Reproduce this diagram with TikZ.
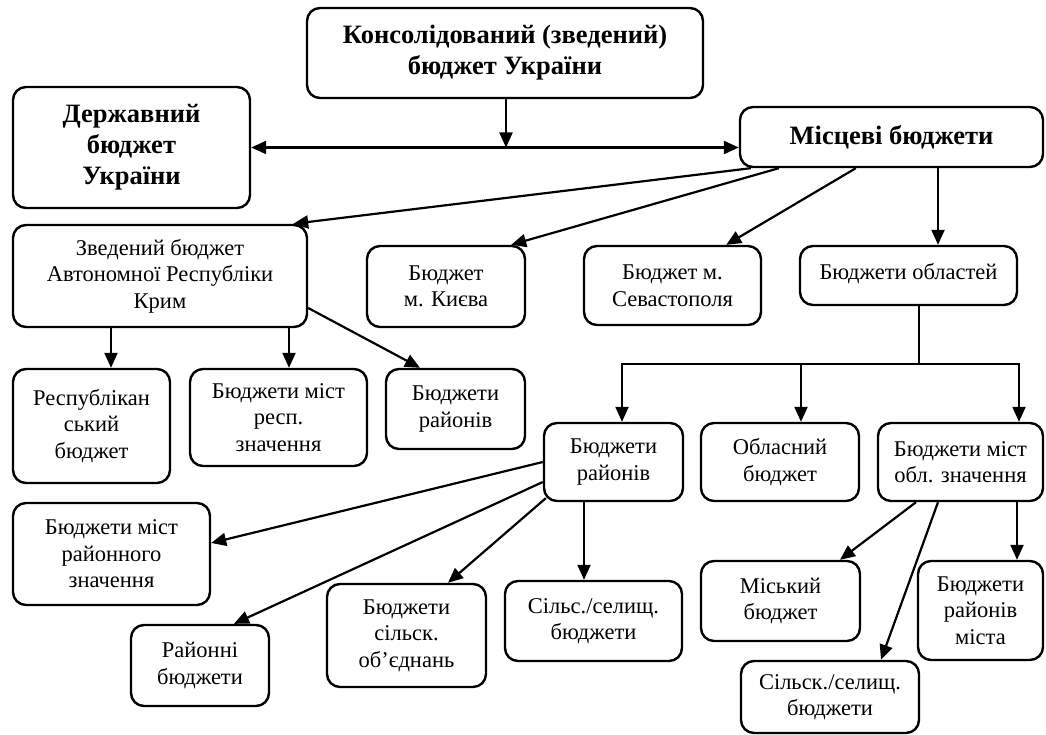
\documentclass[tikz,border=0pt]{standalone}
\usepackage{fontspec}
\setmainfont{Liberation Serif}
\usetikzlibrary{arrows.meta,calc}
\begin{document}
\begin{tikzpicture}[x=1pt,y=1pt,
  box/.style={draw, line width=2.4pt, rounded corners=13pt, align=center, inner sep=0pt, anchor=center,
    font=\fontsize{22.5}{26.5}\selectfont},
  bigbox/.style={box, font=\fontsize{26.5}{31}\selectfont\bfseries},
  conn/.style={line width=2.2pt, -{Triangle[length=15pt,width=13pt]}},
  plain/.style={line width=2.2pt}
]
\useasboundingbox (0,0) rectangle (1046,-735);
% top level
\node[bigbox, minimum width=396pt, minimum height=90pt] (kons) at (505,-53) {Консолідований (зведений)\\бюджет України};
\node[bigbox, minimum width=237pt, minimum height=121pt] (derzh) at (131.5,-147.5) {Державний\\бюджет\\України};
\node[bigbox, minimum width=303pt, minimum height=60pt] (mist) at (891.5,-137) {Місцеві бюджети};
% second level
\node[box, minimum width=294pt, minimum height=102pt] (ark) at (160,-276) {Зведений бюджет\\Автономної Республіки\\Крим};
\node[box, minimum width=158pt, minimum height=81pt] (kyiv) at (446,-286.5) {Бюджет\\м. Києва};
\node[box, minimum width=177pt, minimum height=79pt] (sevas) at (672.5,-285.5) {Бюджет м.\\Севастополя};
\node[box, minimum width=217pt, minimum height=59pt] (oblast) at (908.5,-275.5) {Бюджети областей\rule[-8pt]{0pt}{1pt}};
% ARK children
\node[box, minimum width=157pt, minimum height=114pt] (respub) at (91.5,-426) {Республікан\\ський\\бюджет};
\node[box, minimum width=177pt, minimum height=97pt] (mistresp) at (278.5,-417.5) {Бюджети міст\\респ.\\значення};
\node[box, minimum width=139pt, minimum height=80pt] (rayonA) at (455.5,-409) {Бюджети\\районів};
% oblast children
\node[box, minimum width=139pt, minimum height=78pt] (rayonB) at (613.5,-462) {Бюджети\\районів};
\node[box, minimum width=158pt, minimum height=78pt] (oblasnyi) at (780,-462) {Обласний\\бюджет};
\node[box, minimum width=165pt, minimum height=78pt] (mistobl) at (960.5,-462) {Бюджети міст\\обл. значення};
% rayon children
\node[box, minimum width=197pt, minimum height=102pt] (mistrayon) at (111.5,-554) {Бюджети міст\\районного\\значення};
\node[box, minimum width=138pt, minimum height=81pt] (rayonni) at (200,-665.5) {Районні\\бюджети};
\node[box, minimum width=159pt, minimum height=103pt] (silsob) at (406.5,-635.5) {Бюджети\\сільск.\\об’єднань};
\node[box, minimum width=177pt, minimum height=80pt] (silsA) at (593.5,-621) {Сільс./селищ.\\бюджети};
% city children
\node[box, minimum width=159pt, minimum height=80pt] (miskyi) at (780.5,-601) {Міський\\бюджет};
\node[box, minimum width=178pt, minimum height=72pt] (silsB) at (830,-697) {Сільск./селищ.\\бюджети};
\node[box, minimum width=125pt, minimum height=99pt] (rayonmista) at (980.5,-610.5) {Бюджети\\районів\\міста};
% connectors top
\coordinate (j1) at (506,-147.5);
\draw[conn] (kons.south -| j1) -- (j1);
\draw[line width=2.2pt, {Triangle[length=15pt,width=13pt]}-{Triangle[length=15pt,width=13pt]}] (derzh.east) -- (derzh.east -| mist.west);
\draw[conn] ([xshift=12pt]mist.south west) -- ([xshift=-15pt]ark.north east);
\draw[conn] ([xshift=40pt]mist.south west) -- ([xshift=-15pt]kyiv.north east);
\draw[conn] ([xshift=117pt]mist.south west) -- ([xshift=-36pt]sevas.north east);
\draw[conn] ([xshift=46.5pt]mist.south) -- ([xshift=46.5pt]mist.south |- oblast.north);
% oblast tree
\coordinate (br) at (919,-364);
\draw[plain] (oblast.south -| br) -- (br);
\draw[conn] (br) -| ([xshift=8.5pt]rayonB.north);
\draw[conn] (br) -| ([xshift=58.5pt]mistobl.north);
\draw[conn] ([xshift=21pt]oblasnyi.north |- br) -- ([xshift=21pt]oblasnyi.north);
% ARK children
\draw[conn] ([xshift=19.5pt]respub.north |- ark.south) -- ([xshift=19.5pt]respub.north);
\draw[conn] ([xshift=10.5pt]mistresp.north |- ark.south) -- ([xshift=10.5pt]mistresp.north);
\draw[conn] ([yshift=-32pt]ark.east) -- ([xshift=-35.5pt]rayonA.north);
% rayon children
\draw[conn] (rayonB.west) -- ([yshift=11pt]mistrayon.east);
\draw[conn] ([yshift=-20pt]rayonB.west) -- ([xshift=34pt]rayonni.north);
\draw[conn] ([xshift=3pt,yshift=4pt]rayonB.south west) -- ([xshift=41.5pt]silsob.north);
\draw[conn] ([xshift=-9.5pt]silsA.north |- rayonB.south) -- ([xshift=-9.5pt]silsA.north);
% city children
\draw[conn] ([xshift=-44.5pt]mistobl.south) -- ([xshift=59.5pt]miskyi.north);
\draw[conn] ([xshift=-22.5pt]mistobl.south) -- ([xshift=51pt]silsB.north);
\draw[conn] ([xshift=36.5pt]rayonmista.north |- mistobl.south) -- ([xshift=36.5pt]rayonmista.north);
\end{tikzpicture}
\end{document}
